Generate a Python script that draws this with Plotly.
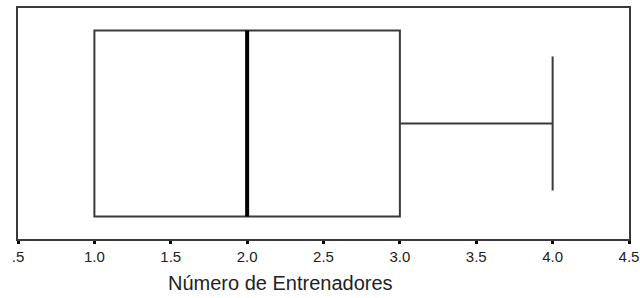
import plotly.graph_objects as go

# Data
q1 = [1.0]
median = [2.0]
q3 = [3.0]
lowerfence = [1.0]
upperfence = [4.0]
tick_vals = [0.5, 1.0, 1.5, 2.0, 2.5, 3.0, 3.5, 4.0, 4.5]
tick_text = [".5", "1.0", "1.5", "2.0", "2.5", "3.0", "3.5", "4.0", "4.5"]
x_title = "Número de Entrenadores"

box_w = 0.805
fig = go.Figure()
fig.add_trace(go.Box(
    y=[0], q1=q1, median=median, q3=q3,
    lowerfence=lowerfence, upperfence=upperfence,
    orientation="h", width=box_w, whiskerwidth=0.72,
    fillcolor="rgba(0,0,0,0)",
    line=dict(color="#3a3a3a", width=2),
    boxpoints=False, hoverinfo="skip", showlegend=False,
))
fig.add_trace(go.Scatter(
    x=[median[0], median[0]], y=[-box_w / 2, box_w / 2],
    mode="lines", line=dict(color="black", width=4),
    hoverinfo="skip", showlegend=False,
))

fig.update_layout(
    width=640, height=298,
    margin=dict(l=18, r=11, t=8, b=59),
    plot_bgcolor="white", paper_bgcolor="white",
    font=dict(family="Liberation Sans, Arial, sans-serif", color="#222222"),
    xaxis=dict(
        range=[0.5, 4.5], tickvals=tick_vals, ticktext=tick_text,
        ticks="outside", ticklen=3, tickwidth=3, tickcolor="black",
        showgrid=False, zeroline=False, automargin=False,
        showline=True, linecolor="#3a3a3a", linewidth=2, mirror=True,
        tickfont=dict(size=15), title=None,
    ),
    yaxis=dict(
        range=[-0.5, 0.5], showticklabels=False, ticks="",
        showgrid=False, zeroline=False, automargin=False,
        showline=True, linecolor="#3a3a3a", linewidth=2, mirror=True,
    ),
    annotations=[dict(
        text=x_title, xref="paper", yref="paper", x=0.43, y=0,
        yshift=-44, xanchor="center", yanchor="middle",
        showarrow=False, font=dict(size=20),
    )],
)

fig.write_html(
    "out.html",
    config={"displayModeBar": False, "staticPlot": True},
    post_script="document.body.style.margin='0';document.body.style.overflow='hidden';",
)
